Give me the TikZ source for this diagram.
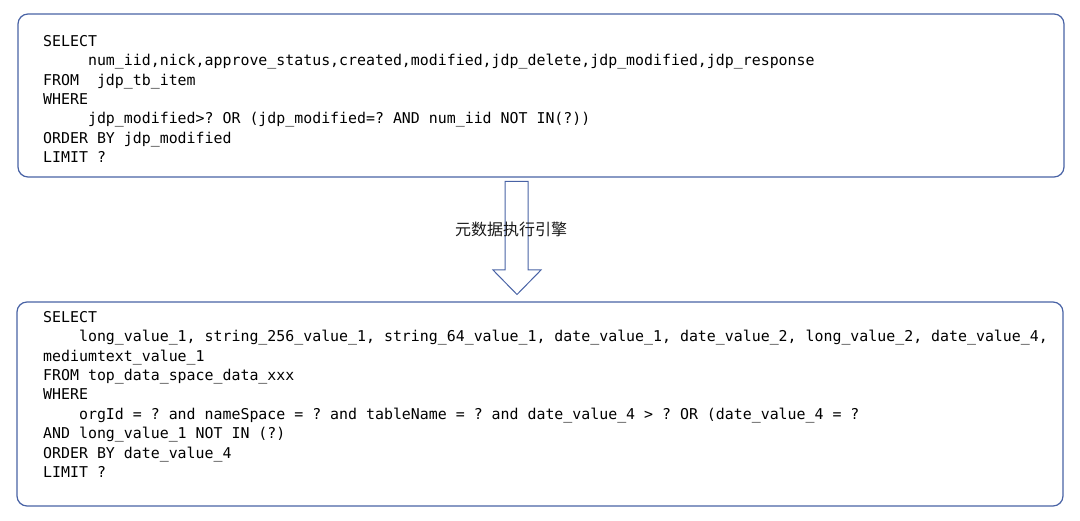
\documentclass[tikz,border=0pt]{standalone}
\usepackage{fontspec}
\setmonofont{DejaVu Sans Mono}
\newfontfamily\cjk{Noto Sans CJK SC}
\definecolor{edge}{RGB}{72,98,165}
\begin{document}
\begin{tikzpicture}[x=1pt,y=-1pt,
  box/.style={draw=edge, line width=1.2pt, rounded corners=10pt, inner sep=0pt, outer sep=0pt, anchor=north west},
  code/.style={anchor=base west, inner sep=0pt, font=\ttfamily\fontsize{14.9}{18}\selectfont, text=black},
  lbl/.style={font=\cjk\fontsize{16}{18}\selectfont, inner sep=0pt, text=black!90},
  blockarrow/.style={draw=edge, line width=1pt, line join=miter}]
\useasboundingbox (0,0) rectangle (1080,521);
\node[box, minimum width=1046pt, minimum height=163pt] (src) at (18,14) {};
\node[box, minimum width=1046pt, minimum height=204pt] (dst) at (17,302) {};
% top code
\node[code] (s1) at (43,46.4) {SELECT};
\node[code] (s2) at (43,65.7) {\phantom{00000}num\_iid,nick,approve\_status,created,modified,jdp\_delete,jdp\_modified,jdp\_response};
\node[code] (s3) at (43,85.1) {FROM\phantom{00}jdp\_tb\_item};
\node[code] (s4) at (43,104.4) {WHERE};
\node[code] (s5) at (43,123.7) {\phantom{00000}jdp\_modified>? OR (jdp\_modified=? AND num\_iid NOT IN(?))};
\node[code] (s6) at (43,143.1) {ORDER BY jdp\_modified};
\node[code] (s7) at (43,162.4) {LIMIT ?};
% bottom code
\node[code] (d1) at (43,322.4) {SELECT};
\node[code] (d2) at (43,341.8) {\phantom{0000}long\_value\_1, string\_256\_value\_1, string\_64\_value\_1, date\_value\_1, date\_value\_2, long\_value\_2, date\_value\_4,};
\node[code] (d3) at (43,361.2) {mediumtext\_value\_1};
\node[code] (d4) at (43,380.6) {FROM top\_data\_space\_data\_xxx};
\node[code] (d5) at (43,400.0) {WHERE};
\node[code] (d6) at (43,419.4) {\phantom{0000}orgId = ? and nameSpace = ? and tableName = ? and date\_value\_4 > ? OR (date\_value\_4 = ?};
\node[code] (d7) at (43,438.8) {AND long\_value\_1 NOT IN (?)};
\node[code] (d8) at (43,458.2) {ORDER BY date\_value\_4};
\node[code] (d9) at (43,477.6) {LIMIT ?};
% block arrow
\draw[blockarrow] (505,181.5) -- (528,181.5) -- (528,270) -- (541,270) -- (517,294.5) -- (493,270) -- (505,270) -- cycle;
\node[lbl] (eng) at (511,229.5) {元数据执行引擎};
\end{tikzpicture}
\end{document}
